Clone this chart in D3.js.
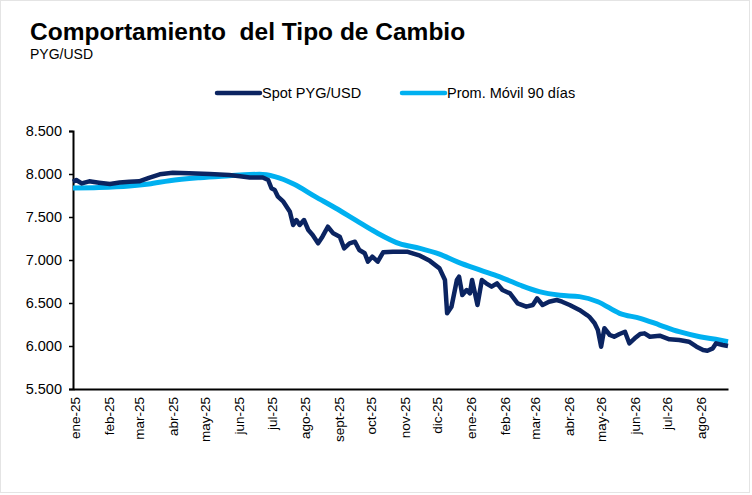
<!DOCTYPE html>
<html>
<head>
<meta charset="utf-8">
<script src="https://cdn.jsdelivr.net/npm/d3@7"></script>
<style>
  body { margin: 0; background: #fff; }
  svg { font-family: "Liberation Sans", Arial, sans-serif; }
</style>
</head>
<body>
<div id="chart"></div>
<script>
// Spot PYG/USD
var spotDates = [
  "2025-01-01","2025-01-04","2025-01-09","2025-01-16","2025-01-25","2025-02-04","2025-02-13","2025-02-22",
  "2025-03-03","2025-03-12","2025-03-22","2025-04-03","2025-04-18","2025-05-07","2025-05-25",
  "2025-06-04","2025-06-13","2025-06-25","2025-06-30","2025-07-03","2025-07-06","2025-07-09",
  "2025-07-14","2025-07-17","2025-07-20","2025-07-23","2025-07-26","2025-07-29","2025-08-02",
  "2025-08-06","2025-08-10","2025-08-15","2025-08-19","2025-08-24","2025-08-29","2025-09-04",
  "2025-09-08","2025-09-13","2025-09-18","2025-09-22","2025-09-27","2025-09-30","2025-10-04",
  "2025-10-09","2025-10-14","2025-10-23","2025-11-05",
  "2025-11-17","2025-11-26","2025-12-05","2025-12-10","2025-12-12","2025-12-16","2025-12-21",
  "2025-12-23","2025-12-26","2025-12-30","2026-01-02","2026-01-04","2026-01-09","2026-01-13",
  "2026-01-17","2026-01-22","2026-01-27","2026-02-01","2026-02-08","2026-02-15","2026-02-23",
  "2026-03-01","2026-03-05","2026-03-10","2026-03-16","2026-03-23","2026-03-28","2026-04-04",
  "2026-04-13","2026-04-20","2026-04-22","2026-04-27","2026-04-30","2026-05-03","2026-05-06",
  "2026-05-11","2026-05-15","2026-05-20","2026-05-25","2026-05-29","2026-06-03","2026-06-08",
  "2026-06-12","2026-06-17","2026-06-26","2026-07-05","2026-07-14","2026-07-23","2026-07-30",
  "2026-08-05","2026-08-09","2026-08-14","2026-08-17","2026-08-23","2026-08-28"
];
var spotValues = [
  7910, 7930, 7891, 7915, 7899, 7884, 7900, 7910,
  7915, 7955, 7996, 8015, 8008, 8000, 7988,
  7975, 7960, 7960, 7930, 7834, 7814, 7736,
  7678, 7620, 7562, 7407, 7465, 7407, 7465,
  7349, 7291, 7194, 7271, 7387, 7310, 7271,
  7136, 7194, 7213, 7116, 7078, 6981, 7039,
  6981, 7090, 7097, 7097,
  7050, 6990, 6903, 6767, 6380, 6457, 6767,
  6806, 6593, 6651, 6612, 6767, 6477, 6767,
  6729, 6690, 6729, 6651, 6612, 6496, 6457,
  6477, 6554, 6477, 6515, 6535, 6515, 6477,
  6419, 6360, 6341, 6264, 6186, 5992, 6206,
  6128, 6108, 6140, 6166, 6031, 6089, 6140,
  6147, 6108, 6120, 6078, 6070, 6050, 5992,
  5953, 5945, 5973, 6031, 6012, 6000
];

// Prom. Móvil 90 días
var maDates = [
  "2025-01-01","2025-01-25","2025-02-22","2025-03-12","2025-03-31","2025-04-28","2025-05-25",
  "2025-06-13","2025-06-22","2025-07-06","2025-07-24","2025-08-12","2025-08-31",
  "2025-09-19","2025-10-07","2025-10-29","2025-11-17","2025-12-05","2025-12-22",
  "2026-01-11","2026-01-29","2026-02-17","2026-03-07","2026-03-26","2026-04-13","2026-04-30",
  "2026-05-20","2026-06-08","2026-06-26","2026-07-14","2026-08-02","2026-08-20","2026-08-28"
];
var maValues = [
  7837, 7842, 7860, 7884, 7922, 7957, 7980,
  7995, 7996, 7969, 7880, 7740, 7605,
  7460, 7325, 7190, 7136, 7068, 6975,
  6884, 6806, 6709, 6632, 6590, 6574, 6515,
  6380, 6322, 6244, 6166, 6108, 6070, 6050
];

var yTicks = [5500, 6000, 6500, 7000, 7500, 8000, 8500];
var monthLabels = ["ene","feb","mar","abr","may","jun","jul","ago","sept","oct","nov","dic"];

var width = 752;
var height = 495;
var spotColor = "#0b2461";
var maColor = "#00b0f0";

var parse = d3.timeParse("%Y-%m-%d");

var svg = d3.select("#chart")
  .append("svg")
  .attr("width", width)
  .attr("height", height);

// frame
svg.append("rect")
  .attr("x", 0.5).attr("y", 0.5)
  .attr("width", width - 3).attr("height", height - 3)
  .attr("fill", "#fff")
  .attr("stroke", "#c8c8c8")
  .attr("stroke-dasharray", "1,1");

// title
svg.append("text")
  .attr("x", 30).attr("y", 40)
  .attr("font-size", 24.5).attr("font-weight", "bold")
  .attr("xml:space", "preserve")
  .text("Comportamiento  del Tipo de Cambio");

svg.append("text")
  .attr("x", 30).attr("y", 59)
  .attr("font-size", 14)
  .text("PYG/USD");

var xScale = d3.scaleTime()
  .domain([parse("2025-01-01"), parse("2026-08-28")])
  .range([73, 728]);

var yScale = d3.scaleLinear()
  .domain([5500, 8500])
  .range([389, 131]);

// y axis
var yAxis = d3.axisLeft(yScale)
  .tickValues(yTicks)
  .tickSize(4)
  .tickFormat(function(d) { return d3.format(",.0f")(d).replace(",", "."); });

var yG = svg.append("g")
  .attr("transform", "translate(73,0)")
  .call(yAxis);
yG.select(".domain").attr("stroke", "#000").attr("stroke-width", 2);
yG.selectAll(".tick line").attr("stroke", "#000").attr("stroke-width", 1.5);
yG.selectAll(".tick text")
  .attr("font-size", 14.5)
  .attr("font-family", "Liberation Sans, Arial, sans-serif")
  .attr("fill", "#000")
  .attr("x", -11);

// x axis
var months = d3.timeMonth.range(parse("2025-01-01"), parse("2026-08-02"));
var xAxis = d3.axisBottom(xScale)
  .tickValues(months)
  .tickSize(0)
  .tickFormat(function(d) {
    return monthLabels[d.getMonth()] + "-" + d3.timeFormat("%y")(d);
  });

var xG = svg.append("g")
  .attr("transform", "translate(0,389)")
  .call(xAxis);
xG.select(".domain").attr("stroke", "#000").attr("stroke-width", 2);
xG.selectAll(".tick text")
  .attr("font-size", 13.5)
  .attr("font-family", "Liberation Sans, Arial, sans-serif")
  .attr("fill", "#000")
  .attr("transform", "rotate(-90)")
  .attr("text-anchor", "end")
  .attr("x", -8)
  .attr("y", 2)
  .attr("dy", "0.35em");

// lines
var spotData = spotDates.map(function(d, i) { return { date: parse(d), value: spotValues[i] }; });
var maData = maDates.map(function(d, i) { return { date: parse(d), value: maValues[i] }; });

var line = d3.line()
  .x(function(d) { return xScale(d.date); })
  .y(function(d) { return yScale(d.value); });

svg.append("path")
  .datum(maData)
  .attr("fill", "none")
  .attr("stroke", maColor)
  .attr("stroke-width", 5)
  .attr("d", line.curve(d3.curveMonotoneX));

svg.append("path")
  .datum(spotData)
  .attr("fill", "none")
  .attr("stroke", spotColor)
  .attr("stroke-width", 4.5)
  .attr("stroke-linejoin", "round")
  .attr("d", line.curve(d3.curveLinear));

// legend
var legend = [
  { name: "Spot PYG/USD", color: spotColor, x: 217 },
  { name: "Prom. Móvil 90 días", color: maColor, x: 402 }
];
var lg = svg.selectAll(".legend").data(legend).enter()
  .append("g")
  .attr("class", "legend")
  .attr("transform", function(d) { return "translate(" + d.x + ",93)"; });
lg.append("line")
  .attr("x1", 0).attr("x2", 43)
  .attr("stroke", function(d) { return d.color; })
  .attr("stroke-width", 4.5)
  .attr("stroke-linecap", "round");
lg.append("text")
  .attr("x", 45).attr("dy", "0.35em")
  .attr("font-size", 14.5)
  .text(function(d) { return d.name; });
</script>
</body>
</html>
